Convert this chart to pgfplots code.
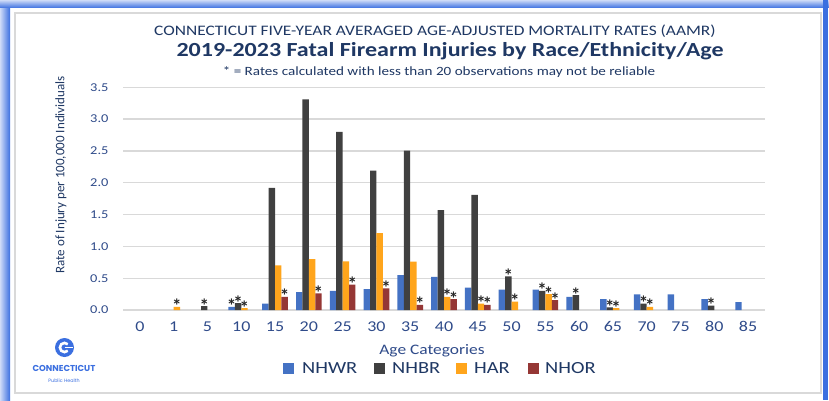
\documentclass[border=0pt]{standalone}
\usepackage{fontspec}
\setmainfont{Carlito}
\newfontfamily\poppins{Poppins}
\usepackage{graphicx}
\usepackage{pgfplots}
\pgfplotsset{compat=1.18}
\definecolor{nhwr}{HTML}{4472C4}
\definecolor{nhbr}{HTML}{404040}
\definecolor{har}{HTML}{FFA51C}
\definecolor{nhor}{HTML}{953735}
\definecolor{navy}{HTML}{1F3864}
\definecolor{ticknavy}{HTML}{2F4B8A}
\definecolor{ctblue}{HTML}{3B6FE0}
\newcommand{\hs}[1]{\scalebox{1.2}[1]{#1}}
\begin{document}
\begin{tikzpicture}[x=1pt,y=1pt]
\path[use as bounding box] (0,0) rectangle (829,400);
\fill[white] (0,0) rectangle (829,400);
% frame
\shade[left color=ctblue!25, right color=ctblue] (0,0) rectangle (10,400);
\shade[top color=ctblue!25, bottom color=ctblue] (0,392) rectangle (829,400);
\fill[ctblue] (823,0) rectangle (828,400);
\draw[black!15, line width=1.2pt] (15,7) rectangle (821,387);
% titles
\node[text=navy, font=\fontsize{14.5}{15}\selectfont] at (435,369) {\hs{CONNECTICUT FIVE-YEAR AVERAGED AGE-ADJUSTED MORTALITY RATES (AAMR)}};
\node[text=navy, font=\bfseries\fontsize{20}{21}\selectfont] at (450,349) {\hs{2019-2023 Fatal Firearm Injuries by Race/Ethnicity/Age}};
\node[text=navy, font=\fontsize{12.6}{13}\selectfont] at (439,328) {\hs{* = Rates calculated with less than 20 observations may not be reliable}};
% y label
\node[text=navy, rotate=90, font=\fontsize{13}{13}\selectfont] at (61,225) {Rate of Injury per 100,000 Individuals};
\begin{axis}[
  at={(123pt,90pt)}, anchor=south west, scale only axis,
  width=642pt, height=222.7pt,
  xmin=-0.5, xmax=18.5, ymin=0, ymax=3.5,
  ybar=0pt, bar width=0.19,
  axis line style={draw=none},
  major tick length=0pt,
  ymajorgrids, grid style={draw=black!15, line width=1.3pt},
  xtick={0,...,18},
  xticklabels={\hs{0},\hs{1},\hs{5},\hs{10},\hs{15},\hs{20},\hs{25},\hs{30},\hs{35},\hs{40},\hs{45},\hs{50},\hs{55},\hs{60},\hs{65},\hs{70},\hs{75},\hs{80},\hs{85}},
  xticklabel style={font=\fontsize{15}{15}\selectfont, text=ticknavy, yshift=-8pt},
  ytick={0,0.5,...,3.5},
  /pgf/number format/assume math mode=true,
  yticklabel={\hs{\pgfmathprintnumber[fixed,fixed zerofill,precision=1]{\tick}}},
  yticklabel style={font=\fontsize{12}{12}\selectfont, text=ticknavy, xshift=-11pt},
  clip=false,
  every node near coord/.append style={font=\bfseries\fontsize{19}{19}\selectfont, text=black!85, anchor=base, yshift=-6pt, inner sep=0pt},
]
% NHWR
\addplot[fill=nhwr, draw=none, bar shift=-0.285] coordinates {
(3,0.05) (4,0.10) (5,0.28) (6,0.30) (7,0.33) (8,0.55) (9,0.52) (10,0.35) (11,0.32) (12,0.32) (13,0.205) (14,0.17) (15,0.245) (16,0.245) (17,0.17) (18,0.125)};
\addplot[draw=none, fill=none, bar shift=-0.285, forget plot, nodes near coords={*}] coordinates {(3,0.05)};
% NHBR
\addplot[fill=nhbr, draw=none, bar shift=-0.095] coordinates {
(2,0.06) (3,0.11) (4,1.92) (5,3.31) (6,2.80) (7,2.19) (8,2.505) (9,1.57) (10,1.81) (11,0.53) (12,0.30) (13,0.235) (14,0.04) (15,0.10) (17,0.07)};
\addplot[draw=none, fill=none, bar shift=-0.095, forget plot, nodes near coords={*}] coordinates {
(2,0.06) (3,0.11) (11,0.53) (12,0.30) (13,0.235) (14,0.04) (15,0.10) (17,0.07)};
% HAR
\addplot[fill=har, draw=none, bar shift=0.095] coordinates {
(1,0.05) (3,0.03) (4,0.70) (5,0.80) (6,0.765) (7,1.21) (8,0.76) (9,0.205) (10,0.10) (11,0.13) (12,0.25) (14,0.03) (15,0.05)};
\addplot[draw=none, fill=none, bar shift=0.095, forget plot, nodes near coords={*}] coordinates {
(1,0.05) (3,0.03) (9,0.205) (10,0.10) (11,0.13) (12,0.25) (14,0.03) (15,0.05)};
% NHOR
\addplot[fill=nhor, draw=none, bar shift=0.285] coordinates {
(4,0.205) (5,0.26) (6,0.40) (7,0.34) (8,0.08) (9,0.17) (10,0.08) (12,0.157)};
\addplot[draw=none, fill=none, bar shift=0.285, forget plot, nodes near coords={*}] coordinates {
(4,0.205) (5,0.26) (6,0.40) (7,0.34) (8,0.08) (9,0.17) (10,0.08) (12,0.157)};
\end{axis}
% x label
\node[text=ticknavy, font=\fontsize{14.5}{15}\selectfont] at (432,49) {\hs{Age Categories}};
% legend
\fill[nhwr] (283,26.5) rectangle (294,37.5);
\node[anchor=west, text=navy, inner sep=0pt, font=\fontsize{17}{17}\selectfont] at (302,32) {\hs{NHWR}};
\fill[nhbr] (374,26.5) rectangle (385,37.5);
\node[anchor=west, text=navy, inner sep=0pt, font=\fontsize{17}{17}\selectfont] at (392,32) {\hs{NHBR}};
\fill[har] (456,26.5) rectangle (467,37.5);
\node[anchor=west, text=navy, inner sep=0pt, font=\fontsize{17}{17}\selectfont] at (474,32) {\hs{HAR}};
\fill[nhor] (528,26.5) rectangle (539,37.5);
\node[anchor=west, text=navy, inner sep=0pt, font=\fontsize{17}{17}\selectfont] at (545,32) {\hs{NHOR}};
% logo
\fill[ctblue] (64.5,52.5) circle (9.5);
\draw[white, line width=2.6pt] (64.5,52.5) ++(45:4.6) arc (45:315:4.6);
\draw[white, line width=1.6pt] (64.5,52.5) -- (73,52.5);
\node[text=ctblue, font=\poppins\bfseries\fontsize{8.6}{9}\selectfont] at (64,32) {CONNECTICUT};
\node[text=ctblue, font=\poppins\fontsize{4.8}{5}\selectfont] at (64,19) {Public Health};
\end{tikzpicture}
\end{document}
